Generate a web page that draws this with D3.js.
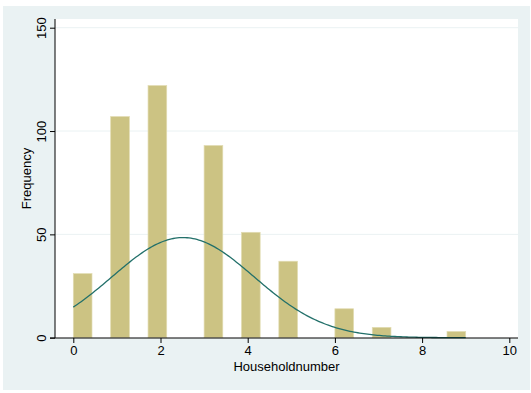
<!DOCTYPE html>
<html>
<head>
<meta charset="utf-8">
<script src="https://cdn.jsdelivr.net/npm/d3@7"></script>
<style>
  html, body { margin: 0; padding: 0; background: #ffffff; }
  svg { display: block; }
  text { font-family: "Liberation Sans", Arial, Helvetica, sans-serif; fill: #000; }
</style>
</head>
<body>
<svg id="chart" width="531" height="393"></svg>
<script>
// ---- data ----
const householdNumbers = [0, 1, 2, 3, 4, 5, 6, 7, 9];
const frequencies      = [31, 107, 122, 93, 51, 37, 14, 5, 3];
const xTicks = [0, 2, 4, 6, 8, 10];
const yTicks = [0, 50, 100, 150];
const nBins = 21;
const xTitle = "Householdnumber";
const yTitle = "Frequency";

// ---- layout ----
const W = 531, H = 393;
const svg = d3.select("#chart");
const outer = { x: 3, y: 6, w: 527, h: 384 };
const plot = { left: 55, right: 518, top: 19, bottom: 338 };

svg.append("rect").attr("x", outer.x).attr("y", outer.y)
  .attr("width", outer.w).attr("height", outer.h).attr("fill", "#EAF2F3");
svg.append("rect").attr("x", plot.left).attr("y", plot.top)
  .attr("width", plot.right - plot.left).attr("height", plot.bottom - plot.top)
  .attr("fill", "#ffffff");

const x = d3.scaleLinear().domain([0, 10]).range([73.3, 509.3]);
const y = d3.scaleLinear().domain([0, 150]).range([337.7, 27.7]);

// grid
svg.append("g").selectAll("line").data(yTicks.filter(d => d > 0)).join("line")
  .attr("x1", plot.left).attr("x2", plot.right)
  .attr("y1", d => y(d)).attr("y2", d => y(d))
  .attr("stroke", "#EAF2F3").attr("stroke-width", 1);

// bins
const minV = d3.min(householdNumbers), maxV = d3.max(householdNumbers);
const bw = (maxV - minV) / nBins;
const bars = householdNumbers.map((v, i) => {
  let b = Math.floor((v - minV) / bw + 1e-9);
  if (b >= nBins) b = nBins - 1;
  return { x0: minV + b * bw, x1: minV + (b + 1) * bw, f: frequencies[i] };
});

svg.append("g").selectAll("rect").data(bars).join("rect")
  .attr("x", d => x(d.x0)).attr("width", d => x(d.x1) - x(d.x0))
  .attr("y", d => y(d.f)).attr("height", d => y(0) - y(d.f))
  .attr("fill", "#CCC383").attr("stroke", "#E2DCB2").attr("stroke-width", 0.7);

// normal density overlay
const N = d3.sum(frequencies);
const mean = d3.sum(householdNumbers.map((v, i) => v * frequencies[i])) / N;
const variance = d3.sum(householdNumbers.map((v, i) => (v - mean) ** 2 * frequencies[i])) / (N - 1);
const sd = Math.sqrt(variance);
const curvePts = d3.range(0, 201).map(k => {
  const xv = minV + (maxV - minV) * k / 200;
  const dens = Math.exp(-((xv - mean) ** 2) / (2 * variance)) / (sd * Math.sqrt(2 * Math.PI));
  return [xv, dens * N * bw];
});
svg.append("path").datum(curvePts)
  .attr("d", d3.line().x(d => x(d[0])).y(d => y(d[1])).curve(d3.curveLinear))
  .attr("fill", "none").attr("stroke", "#22706A").attr("stroke-width", 1.3);

// axes
const xAxis = d3.axisBottom(x).tickValues(xTicks).tickSize(5).tickPadding(3).tickFormat(d3.format("d"));
const gx = svg.append("g").attr("transform", `translate(0,${plot.bottom})`).call(xAxis);
gx.select(".domain").remove();
gx.append("line").attr("x1", plot.left - 5).attr("x2", plot.right).attr("y1", 0).attr("y2", 0)
  .attr("stroke", "#000").attr("stroke-width", 1);
gx.selectAll(".tick line").attr("stroke", "#000");
gx.selectAll(".tick text").attr("font-size", 13).attr("fill", "#000")
  .attr("font-family", "Liberation Sans, Arial, sans-serif");

const yAxis = d3.axisLeft(y).tickValues(yTicks).tickSize(5).tickFormat(d3.format("d"));
const gy = svg.append("g").attr("transform", `translate(${plot.left},0)`).call(yAxis);
gy.select(".domain").remove();
gy.append("line").attr("x1", 0).attr("x2", 0).attr("y1", plot.top).attr("y2", plot.bottom)
  .attr("stroke", "#000").attr("stroke-width", 1);
gy.selectAll(".tick line").attr("stroke", "#000");
gy.selectAll(".tick text")
  .attr("font-size", 13).attr("fill", "#000")
  .attr("font-family", "Liberation Sans, Arial, sans-serif")
  .attr("text-anchor", "middle").attr("dy", null)
  .attr("x", null)
  .attr("transform", "translate(-9.5,0) rotate(-90)");

// titles
svg.append("text").attr("x", (plot.left + plot.right) / 2).attr("y", 371)
  .attr("text-anchor", "middle").attr("font-size", 13).text(xTitle);
svg.append("text").attr("transform", `translate(30.5,${(plot.top + plot.bottom) / 2}) rotate(-90)`)
  .attr("text-anchor", "middle").attr("font-size", 13).text(yTitle);
</script>
</body>
</html>
